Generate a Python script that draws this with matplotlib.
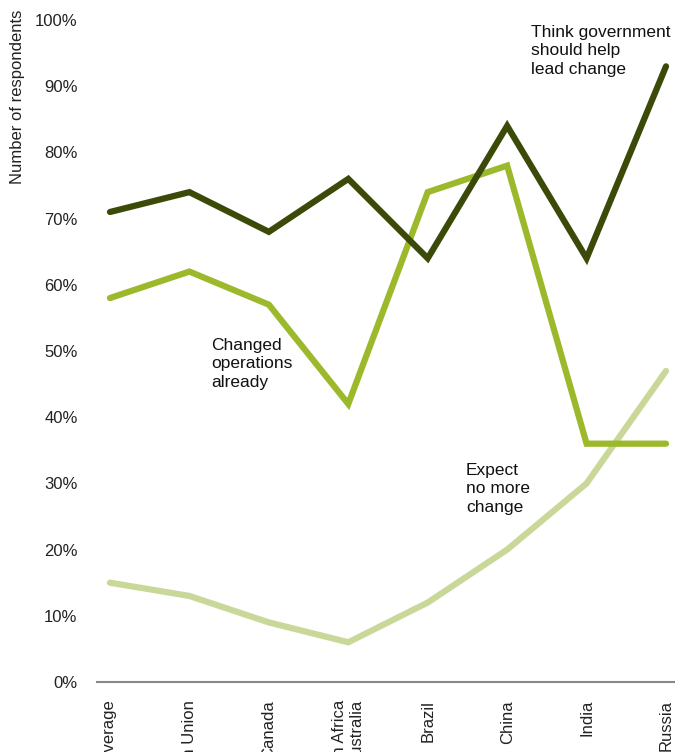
import matplotlib.pyplot as plt
import numpy as np

plt.rcParams['font.family'] = ['Liberation Sans', 'DejaVu Sans']

paises = ['Global average', 'European Union', 'Canada', 'South Africa\nAustralia',
          'Brazil', 'China', 'India', 'Russia']
gobierno = [71, 74, 68, 76, 64, 84, 64, 93]
cambiaron = [58, 62, 57, 42, 74, 78, 36, 36]
sin_cambio = [15, 13, 9, 6, 12, 20, 30, 47]

x = np.arange(len(paises))

fig = plt.figure(figsize=(6.75, 7.52), dpi=100)
ax = fig.add_axes([97 / 675, 70 / 752, 578 / 675, 662 / 752])

ax.plot(x, sin_cambio, c='#c9d899', lw=4.5, solid_capstyle='round', solid_joinstyle='miter')
ax.plot(x, cambiaron, c='#9bb92b', lw=4.5, solid_capstyle='round', solid_joinstyle='miter')
ax.plot(x, gobierno, c='#3b4a09', lw=4.5, solid_capstyle='round', solid_joinstyle='miter')

ax.set_xlim(-13 / 79.5, 7 + 9 / 79.5)
ax.set_ylim(0, 100)
ax.set_yticks(range(0, 101, 10))
ax.set_yticklabels([f'{v}%' for v in range(0, 101, 10)], fontsize=12, color='#222222')
ax.set_xticks(x)
ax.set_xticklabels(paises, rotation=90, fontsize=12, va='top', ha='center', color='#222222')
for t in ax.get_xticklabels():
    t.set_multialignment('right')
ax.tick_params(axis='both', length=0)
ax.tick_params(axis='x', pad=13)
ax.tick_params(axis='y', pad=14)

for s in ['top', 'right', 'left']:
    ax.spines[s].set_visible(False)
ax.spines['bottom'].set_color('#888888')
ax.spines['bottom'].set_linewidth(1.5)

ax.text(5.30, 99.3, 'Think government\nshould help\nlead change', fontsize=12.5,
        va='top', ha='left', linespacing=1.3, color='#111111')
ax.text(1.27, 52, 'Changed\noperations\nalready', fontsize=12.5,
        va='top', ha='left', linespacing=1.3, color='#111111')
ax.text(4.48, 33.1, 'Expect\nno more\nchange', fontsize=12.5,
        va='top', ha='left', linespacing=1.3, color='#111111')

fig.text(18 / 675, 1 - 10 / 752, 'Number of respondents', rotation=90, fontsize=12,
         va='top', ha='center', color='#222222')

fig.savefig('out.png', dpi=100)
